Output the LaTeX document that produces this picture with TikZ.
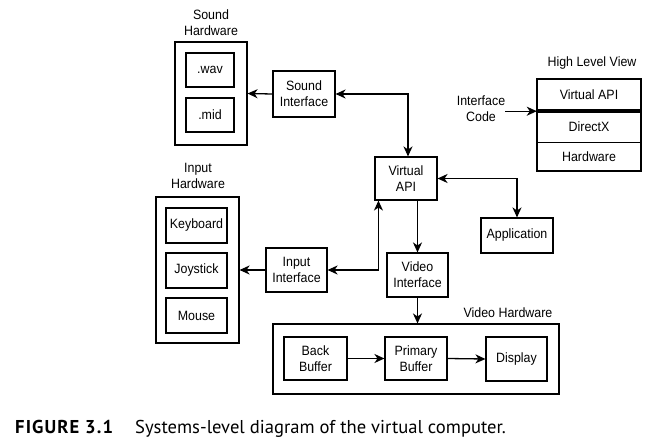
\documentclass[tikz,border=0pt]{standalone}
\usepackage{fontspec}
\setmainfont{Liberation Sans}[FakeStretch=0.92]
\newfontfamily\capfont{PT Sans}
\newfontfamily\capboldfont{PT Sans Bold}[LetterSpace=6]
\usetikzlibrary{arrows.meta,shadows}
\begin{document}
\begin{tikzpicture}[x=1pt,y=-1pt,
  every node/.style={font=\fontsize{13.5}{16}\selectfont, align=center, inner sep=0pt},
  sz/.style 2 args={minimum width=#1pt, minimum height=#2pt},
  box/.style={draw, line width=1.1pt, fill=white,
    drop shadow={shadow xshift=1.3pt, shadow yshift=-1.3pt, opacity=1, fill=black}},
  outer/.style={draw, line width=1.1pt},
  arr/.style={line width=1.3pt, -{Stealth[length=10pt,width=9pt,inset=3pt]}},
  darr/.style={line width=1.3pt, {Stealth[length=10pt,width=9pt,inset=3pt]}-{Stealth[length=10pt,width=9pt,inset=3pt]}}]
\useasboundingbox (0,0) rectangle (656,447);

% labels
\node (shwl) at (211,22.4) {Sound\\Hardware};
\node (ihwl) at (198,176) {Input\\Hardware};
\node (hvl) at (592,63) {High Level View};
\node (vhl) at (508,313) {Video Hardware};
\node (ic) at (481,109) {Interface\\Code};

% outer boxes
\node[outer, sz={72}{103}] (shw) at (211,93.5) {};
\node[outer, sz={83}{146}] (ihw) at (197.5,270) {};
\node[outer, sz={286}{70}] (vh) at (416,359) {};

% sound hardware
\node[box, sz={48}{34}] (wav) at (210,70) {.wav};
\node[box, sz={48}{34}] (mid) at (210,115) {.mid};
\node[box, sz={62}{46}] (si) at (304,94) {Sound\\Interface};

% input hardware
\node[box, sz={61}{35}] (kb) at (196.5,225.5) {Keyboard};
\node[box, sz={61}{35}] (joy) at (196.5,270.5) {Joystick};
\node[box, sz={61}{35}] (mouse) at (196.5,315.5) {Mouse};
\node[box, sz={61}{44}] (ii) at (296.5,270) {Input\\Interface};

% centre
\node[box, sz={62}{43}] (vapi) at (406,178.5) {Virtual\\API};
\node[box, sz={72}{35}] (app) at (517,235.5) {Application};
\node[box, sz={61}{44}] (vi) at (417.5,275) {Video\\Interface};

% video hardware
\node[box, sz={63}{43}] (bb) at (315.5,358.5) {Back\\Buffer};
\node[box, sz={62}{43}] (pb) at (416,358.5) {Primary\\Buffer};
\node[box, sz={61}{44}] (disp) at (516.5,359) {Display};

% high level view stack
\node[box, sz={104}{92}] (stack) at (589,125) {};
\node[sz={104}{32}] (hv1) at (589,95) {Virtual API};
\node[sz={104}{31}] (hv2) at (589,126.5) {DirectX};
\node[sz={104}{29}] (hv3) at (589,156.5) {Hardware};
\draw[line width=4pt] (hv1.south west) -- (hv1.south east);
\draw[line width=0.7pt] (hv2.south west) -- (hv2.south east);

% connectors
\draw[arr] (si.west) -- (shw.east);
\draw[darr] (si.east) -| ([xshift=2pt]vapi.north);
\draw[darr] (vapi.east) -| (app.north);
\draw[arr] (vapi.south -| vi.north) -- (vi.north);
\draw[arr] (vi.south) -- (vi.south |- vh.north);
\draw[arr] (ii.west) -- (ihw.east);
\draw[darr] (ii.east) -| ([xshift=4pt]vapi.south west);
\draw[arr] (bb.east) -- (pb.west);
\draw[arr] (pb.east) -- (disp.west);
\draw[arr] (ic.east |- hv1.south west) -- (hv1.south west);

% caption
\node[anchor=base west, font=\capboldfont\fontsize{18.6}{20}\selectfont] (fig) at (15,433) {FIGURE 3.1};
\node[anchor=base west, font=\capfont\fontsize{18.6}{20}\selectfont] (cap) at (135,433) {Systems-level diagram of the virtual computer.};
\end{tikzpicture}
\end{document}
